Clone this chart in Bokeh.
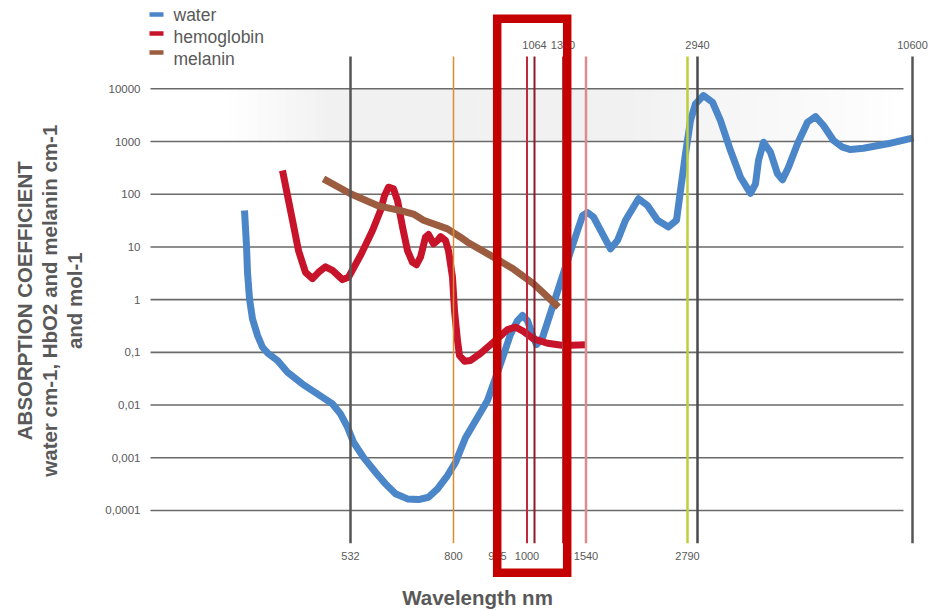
from bokeh.plotting import figure
from bokeh.models import Range1d
from bokeh.core.properties import value
from bokeh.embed import file_html
from bokeh.resources import INLINE

# ---------------- data ----------------
# x is the chart's schematic (non-linear) wavelength position
water_x = [244, 246, 247, 249, 252, 257, 262, 268, 277, 287, 302, 318, 332, 340, 347, 353, 363, 375,
           385, 395, 407, 418, 428, 437, 447, 455, 465, 487, 500, 510, 517, 522, 527, 532, 536, 542,
           553, 567, 577, 582, 587, 593, 602, 610, 617, 625, 638, 647, 657, 668, 676, 680, 685, 690,
           695, 703, 712, 720, 730, 740, 750, 755, 758, 763, 770, 777, 782, 788, 797, 807, 815, 823,
           833, 842, 850, 863, 887, 913]
water_y = [49, 10.6, 3.3, 1.04, 0.43, 0.21, 0.125, 0.094, 0.070, 0.042, 0.025, 0.0158, 0.0105,
           0.0068, 0.0038, 0.00197, 0.00102, 0.00053, 0.00032, 0.000207, 0.000166, 0.000161,
           0.000178, 0.000257, 0.00046, 0.00082, 0.0024, 0.0122, 0.0605, 0.22, 0.40, 0.50, 0.40,
           0.21, 0.14, 0.19, 0.83, 5.5, 20.5, 39, 45, 37, 17.7, 9.2, 13.2, 32, 82, 61, 32, 24, 32,
           118, 585, 2500, 5190, 7460, 5570, 2500, 675, 210, 104, 157, 436, 970, 627, 244, 188, 325,
           905, 2320, 2980, 2010, 1045, 780, 705, 746, 905, 1175]

hb_x = [282, 286, 292, 298, 305, 312, 318, 325, 332, 342, 348, 360, 372, 380, 384, 388, 393, 397,
        402, 407, 412, 416, 420, 425, 428, 433, 437, 440, 445, 448, 452, 454, 457, 459, 464, 470,
        480, 493, 507, 515, 523, 533, 547, 563, 585]
hb_y = [282, 118, 32, 8.5, 3.3, 2.5, 3.3, 4.2, 3.6, 2.4, 2.66, 6.9, 20.5, 49, 94, 136, 127, 76,
        24, 8.5, 5.1, 4.6, 6.4, 15.3, 17.2, 11.5, 13.2, 15.7, 13.2, 8.5, 2.66, 0.62, 0.168, 0.087,
        0.068, 0.070, 0.096, 0.156, 0.27, 0.30, 0.25, 0.18, 0.149, 0.135, 0.139]

mel_x = [323, 350, 377, 400, 413, 423, 447, 460, 467, 493, 513, 533, 558]
mel_y = [196, 102, 61, 49, 42, 32, 22, 15.3, 12.3, 6.4, 3.8, 2.0, 0.72]

series_names = ["water", "hemoglobin", "melanin"]
series_colors = ["#4a86c8", "#c8142a", "#9c5c40"]

y_ticks = [1e4, 1e3, 1e2, 1e1, 1, 1e-1, 1e-2, 1e-3, 1e-4]
y_tick_labels = ["10000", "1000", "100", "10", "1", "0,1", "0,01", "0,001", "0,0001"]

wl_labels = ["532", "800", "975", "1000", "1064", "1320", "1540", "2790", "2940", "10600"]
wl_pos = [350, 453, 497, 526.5, 534, 562.5, 585.5, 687, 697, 912]
wl_side = ["bottom", "bottom", "bottom", "bottom", "top", "top", "bottom", "bottom", "top", "top"]
wl_colors = ["#555555", "#e08a30", "#b02030", "#c0283c", "#8a1c2c", "#a84050", "#dc8c8c",
             "#bccf3c", "#4a4a4a", "#555555"]
wl_widths = [2.5, 1.5, 2, 2, 2, 2, 2.5, 2.5, 2.5, 2.5]

highlight = {"left": 496.7, "right": 566.7, "top": 10 ** 5.33, "bottom": 10 ** -5.18}

FONT = value("Liberation Sans")
GRAY = "#595959"

# ---------------- figure ----------------
p = figure(width=928, height=610, x_range=Range1d(0, 928),
           y_range=Range1d(10 ** -5.8975, 10 ** 5.6755), y_axis_type="log",
           x_axis_location=None, y_axis_location=None,
           output_backend="svg", toolbar_location=None, min_border=0)
p.outline_line_color = None
p.background_fill_color = "white"
p.border_fill_color = "white"
p.grid.visible = False
p.xgrid.visible = False
p.ygrid.visible = False

grid_left, grid_right = 150, 903

# soft grey band between 1000 and 10000
n = 70
bx0, bx1 = 228, grid_right
step = (bx1 - bx0) / n
lefts, rights, cols = [], [], []
for i in range(n):
    xc = bx0 + (i + 0.5) * step
    if xc < 330:
        t = (xc - bx0) / (330 - bx0)
    elif xc < 620:
        t = 1.0
    else:
        t = max(0.0, 1 - (xc - 620) / (bx1 - 620)) ** 0.9
    g = int(round(255 - 14 * t))
    lefts.append(bx0 + i * step)
    rights.append(bx0 + (i + 1) * step + 0.5)
    cols.append("#%02x%02x%02x" % (g, g, g))
p.quad(left=lefts, right=rights, top=[1e4] * n, bottom=[1e3] * n, fill_color=cols, line_color=None)

# horizontal grid lines
p.segment(x0=[grid_left] * len(y_ticks), x1=[grid_right] * len(y_ticks), y0=y_ticks, y1=y_ticks,
          line_color="#6a6a6a", line_width=1.6)
p.text(x=[140] * len(y_ticks), y=y_ticks, text=y_tick_labels, text_align="right",
       text_baseline="middle", text_font=FONT, text_font_size=value("11.5px"), text_color=GRAY)

# curves
for xs, ys, c in [(water_x, water_y, series_colors[0]), (hb_x, hb_y, series_colors[1]),
                  (mel_x, mel_y, series_colors[2])]:
    p.line(xs, ys, line_color=c, line_width=7, line_join="round", line_cap="butt")

# wavelength marker lines
p.segment(x0=wl_pos, x1=wl_pos, y0=[10 ** -4.62] * len(wl_pos), y1=[10 ** 4.613] * len(wl_pos),
          line_color=wl_colors, line_width=wl_widths)
top_y, bot_y = 10 ** 4.83, 10 ** -4.855
p.text(x=wl_pos, y=[top_y if s == "top" else bot_y for s in wl_side], text=wl_labels,
       text_align="center", text_baseline="middle", text_font=FONT,
       text_font_size=value("11px"), text_color=GRAY)

# highlight box
p.quad(left=[highlight["left"]], right=[highlight["right"]], top=[highlight["top"]],
       bottom=[highlight["bottom"]], fill_alpha=0, line_color="#c40000", line_width=8.5,
       line_join="miter")

# legend
leg_mark_y = [10 ** 5.41, 10 ** 5.05, 10 ** 4.69]
leg_text_y = [10 ** 5.40, 10 ** 4.985, 10 ** 4.565]
p.segment(x0=[149] * 3, x1=[163] * 3, y0=leg_mark_y, y1=leg_mark_y, line_color=series_colors,
          line_width=4.5)
p.text(x=[173] * 3, y=leg_text_y, text=series_names, text_align="left",
       text_baseline="middle", text_font=FONT, text_font_size=value("17.5px"), text_color=GRAY)

# axis titles
title_y = 10 ** -0.02
p.text(x=[24, 49, 74], y=[title_y] * 3,
       text=["ABSORPTION COEFFICIENT", "water cm-1, HbO2 and melanin cm-1", "and mol-1"],
       angle=1.5707963, text_align="center", text_baseline="middle", text_font=FONT,
       text_font_size=value("20.5px"), text_font_style="bold", text_color=GRAY)
p.text(x=[477], y=[10 ** -5.66], text=["Wavelength nm"], text_align="center",
       text_baseline="middle", text_font=FONT, text_font_size=value("20.5px"),
       text_font_style="bold", text_color=GRAY)

open("out.html", "w").write(file_html(p, INLINE))
